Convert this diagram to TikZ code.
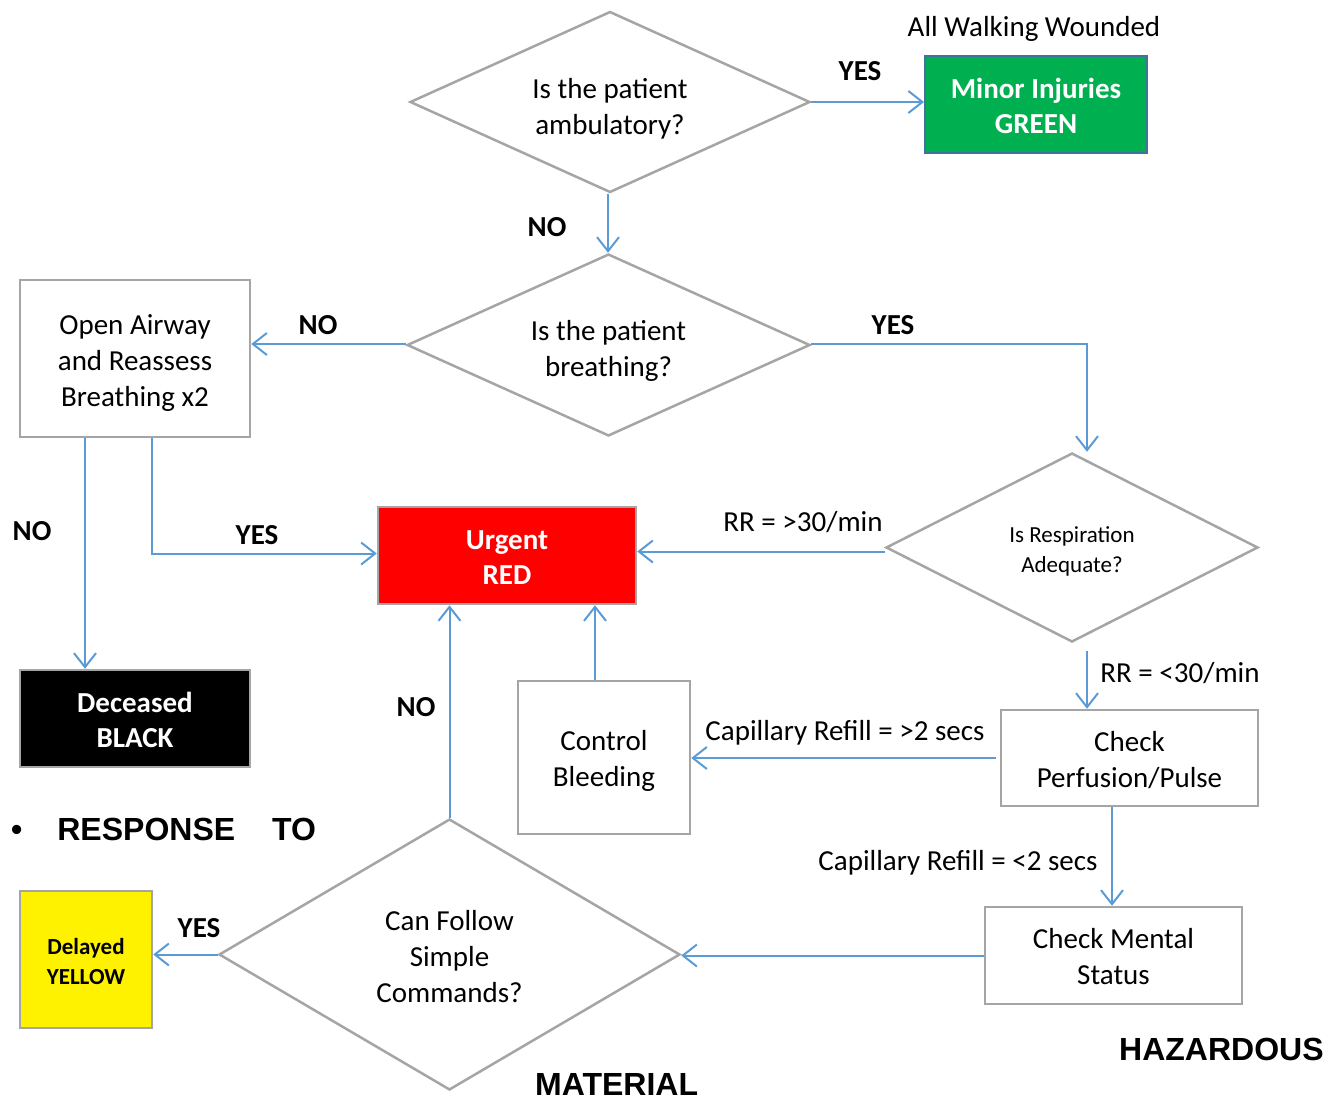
\documentclass[tikz,border=0pt]{standalone}
\usepackage{fontspec}
\setmainfont{Carlito}
\newfontfamily\headfont{Liberation Sans}
\usetikzlibrary{shapes.geometric,arrows.meta}

\definecolor{linegray}{HTML}{A5A5A5}
\definecolor{flowblue}{HTML}{5B9BD5}
\definecolor{triagegreen}{HTML}{00B050}
\definecolor{greenedge}{HTML}{41719C}

\tikzset{
  body/.style={font=\fontsize{29}{36}\selectfont},
  stepbox/.style={body, draw=linegray, line width=2.5pt, fill=white, align=center, inner sep=0pt},
  decision/.style={body, diamond, draw=linegray, line width=2.5pt, fill=white, align=center,
                   inner sep=0pt, shape aspect=2.2},
  tagbox/.style={stepbox, text=white, font=\bfseries\fontsize{29}{35}\selectfont},
  flow/.style={draw=flowblue, line width=2pt, -{Straight Barb[length=14pt,width=22pt]}},
  lbl/.style={body, anchor=base, inner sep=0pt},
  yn/.style={lbl, font=\bfseries\fontsize{29}{36}\selectfont},
  heading/.style={anchor=base west, inner sep=0pt, font=\headfont\bfseries\fontsize{32}{38}\selectfont}
}

\begin{document}
\begin{tikzpicture}[x=1pt, y=-1pt]
\useasboundingbox (0,0) rectangle (1334,1100);

% decisions (text height sets the text block a bit lower in each shape)
\node[decision, text height=70pt, minimum width=400pt, minimum height=181pt] (d1) at (610,102) {Is the patient\\ambulatory?};
\node[decision, text height=68pt, minimum width=403pt, minimum height=182pt] (d2) at (608.5,345) {Is the patient\\breathing?};
\node[decision, text height=54pt, minimum width=372pt, minimum height=189pt,
      font=\fontsize{23}{30}\selectfont] (d3) at (1072,547.5) {Is Respiration\\Adequate?};
\node[decision, text height=96pt, minimum width=461pt, minimum height=271pt] (d4) at (449.5,954.5) {Can Follow\\Simple\\Commands?};

% actions
\node[stepbox, text height=101pt, minimum width=230pt, minimum height=157pt] (oa) at (135,358.5) {Open Airway\\and Reassess\\Breathing x2};
\node[stepbox, text height=60pt, minimum width=257pt, minimum height=96pt] (pf) at (1129.5,758) {Check\\Perfusion/Pulse};
\node[stepbox, text height=63pt, minimum width=172pt, minimum height=153pt] (cb) at (604,757.5) {Control\\Bleeding};
\node[stepbox, text height=59pt, minimum width=257pt, minimum height=97pt] (ms) at (1113.5,955.5) {Check Mental\\Status};

% triage categories
\node[tagbox, text height=58pt, draw=greenedge, line width=2pt, fill=triagegreen, minimum width=222pt, minimum height=97pt]
  (green) at (1036,104.5) {Minor Injuries\\GREEN};
\node[tagbox, text height=58pt, fill=red, minimum width=258pt, minimum height=97pt] (red) at (507,555.5) {Urgent\\RED};
\node[tagbox, text height=58pt, fill=black, minimum width=230pt, minimum height=97pt] (blk) at (135,718.5) {Deceased\\BLACK};
\node[tagbox, text height=49.5pt, fill=yellow, text=black, minimum width=132pt, minimum height=137pt,
      font=\bfseries\fontsize{23}{30}\selectfont] (yl) at (86,959.5) {Delayed\\YELLOW};

% connectors
\draw[flow] (d1.east) -- (d1.east -| green.west);
\draw[flow] ([xshift=-2pt]d1.south) -- ([xshift=-2pt]d1.south |- d2.north);
\draw[flow] ([yshift=1pt]d2.west) -- ([yshift=1pt]d2.west -| oa.east);
\draw[flow] ([yshift=1pt]d2.east) -| ([xshift=15pt]d3.north);
\draw[flow] ([xshift=17pt]oa.south) |- ([yshift=2pt]red.west);
\draw[flow] ([xshift=-50pt]oa.south) -- ([xshift=-50pt]oa.south |- blk.north);
\draw[flow] ([yshift=-4pt]d3.west) -- ([yshift=-4pt]d3.west -| red.east);
\draw[flow, shorten <=8pt] ([xshift=15pt]d3.south) -- ([xshift=15pt]d3.south |- pf.north);
\draw[flow, shorten <=4pt] (pf.west) -- (pf.west -| cb.east);
\draw[flow] ([xshift=-9pt]cb.north) -- ([xshift=-9pt]cb.north |- red.south);
\draw[flow] ([xshift=-17.5pt]pf.south) -- ([xshift=-17.5pt]pf.south |- ms.north);
\draw[flow] (ms.west) -- (ms.west -| d4.east);
\draw[flow] (d4.north) -- (d4.north |- red.south);
\draw[flow] (d4.west) -- (d4.west -| yl.east);

% connector labels
\node[lbl] (walk) at (1034,36) {All Walking Wounded};
\node[yn] (yesgreen) at (860,80) {YES};
\node[yn] (nod1) at (547,236) {NO};
\node[yn] (nod2) at (318,334) {NO};
\node[yn] (yesd2) at (893,334) {YES};
\node[lbl] (rrhigh) at (803,531) {RR = >30/min};
\node[yn] (nodead) at (32,540) {NO};
\node[yn] (yesoa) at (257,544) {YES};
\node[lbl] (rrlow) at (1180,682) {RR = <30/min};
\node[yn] (nod4) at (416,716) {NO};
\node[lbl] (caphigh) at (845,740) {Capillary Refill = >2 secs};
\node[lbl] (caplow) at (958,870) {Capillary Refill = <2 secs};
\node[yn] (yesd4) at (199,937) {YES};

% heading fragments
\node[heading] (resp) at (11,840) {•\hspace{35pt}RESPONSE\hspace{37pt}TO};
\node[heading] (haz) at (1119,1060) {HAZARDOUS};
\node[heading] (mat) at (535,1095) {MATERIAL};
\end{tikzpicture}
\end{document}
